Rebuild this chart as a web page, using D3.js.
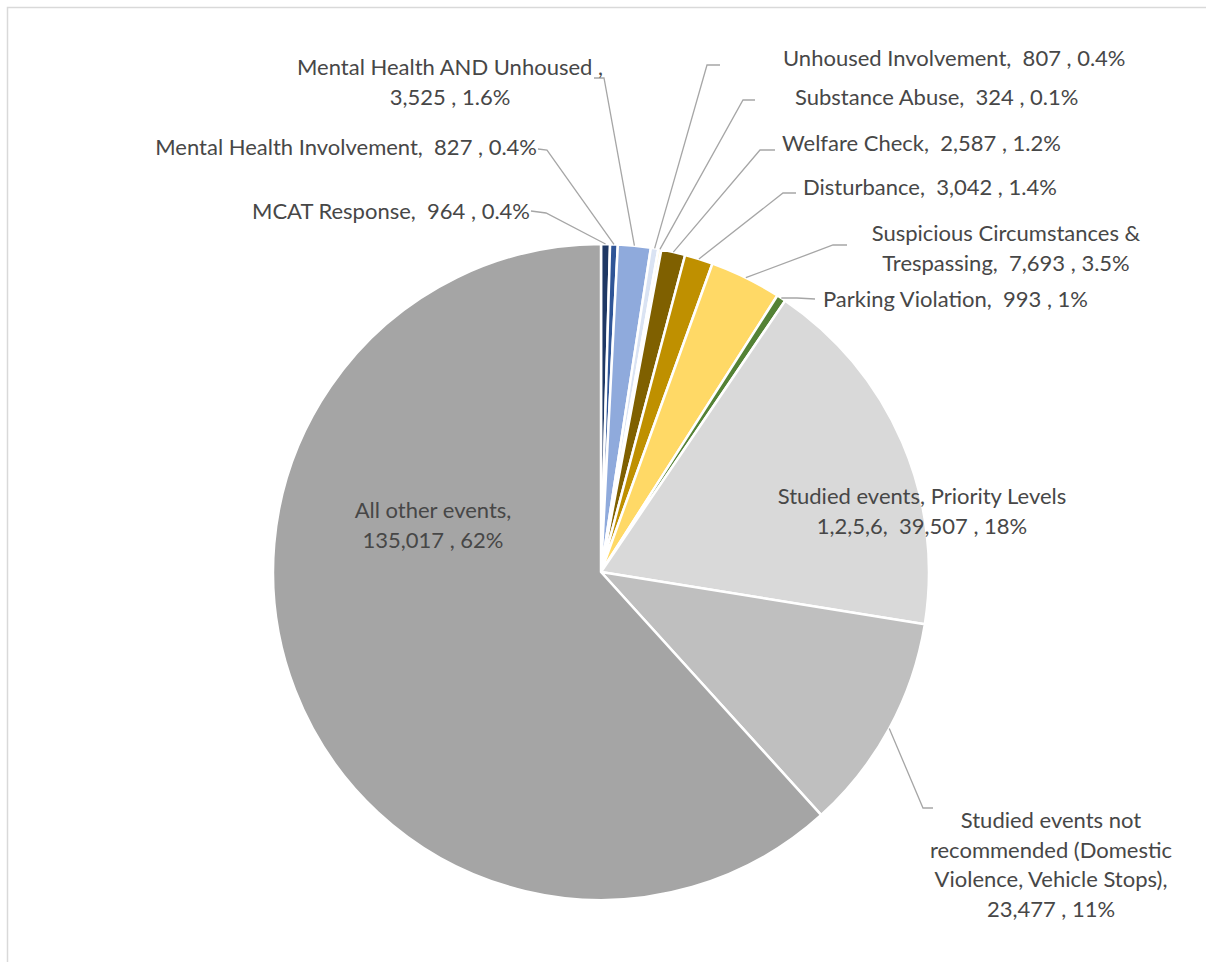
<!DOCTYPE html>
<html>
<head>
<meta charset="utf-8">
<script src="https://cdn.jsdelivr.net/npm/d3@7"></script>
<style>
  html, body { margin: 0; padding: 0; background: #fff; }
  svg { display: block; }
  text { font-family: Lato, "Open Sans", sans-serif; fill: #474747; white-space: pre; }
</style>
</head>
<body>
<svg id="chart" width="1206" height="962"></svg>
<script>
// Event categories, clockwise from 12 o'clock
const categories = [
  "MCAT Response",
  "Mental Health Involvement",
  "Mental Health AND Unhoused",
  "Unhoused Involvement",
  "Substance Abuse",
  "Welfare Check",
  "Disturbance",
  "Suspicious Circumstances & Trespassing",
  "Parking Violation",
  "Studied events, Priority Levels 1,2,5,6",
  "Studied events not recommended (Domestic Violence, Vehicle Stops)",
  "All other events"
];
// Event counts
const counts = [964, 827, 3525, 807, 324, 2587, 3042, 7693, 993, 39507, 23477, 135017];
// Share labels as printed
const shareLabels = ["0.4%", "0.4%", "1.6%", "0.4%", "0.1%", "1.2%", "1.4%", "3.5%", "1%", "18%", "11%", "62%"];
// Slice colours
const colors = ["#1f3864", "#2f5597", "#8faadc", "#dae3f3", "#fff2cc", "#7f6000",
                "#bf9000", "#ffd966", "#548235", "#d9d9d9", "#bfbfbf", "#a5a5a5"];

const fmt = d3.format(",");
const data = categories.map((c, i) => ({ name: c, value: counts[i], share: shareLabels[i], color: colors[i] }));

// Label text lines for each slice
function labelLines(d, i) {
  const v = fmt(d.value) + " , " + d.share;
  switch (i) {
    case 0: return ["MCAT Response,  " + v];
    case 1: return ["Mental Health Involvement,  " + v];
    case 2: return ["Mental Health AND Unhoused ,", v];
    case 3: return ["Unhoused Involvement,  " + v];
    case 4: return ["Substance Abuse,  " + v];
    case 5: return ["Welfare Check,  " + v];
    case 6: return ["Disturbance,  " + v];
    case 7: return ["Suspicious Circumstances &", "Trespassing,  " + v];
    case 8: return ["Parking Violation,  " + v];
    case 9: return ["Studied events, Priority Levels", "1,2,5,6,  " + v];
    case 10: return ["Studied events not", "recommended (Domestic", "Violence, Vehicle Stops),", v];
    case 11: return ["All other events,", v];
  }
}

// Label placement: text anchor point, first baseline, and leader elbow (null = label inside slice)
const layout = [
  { x: 530, y: 219, anchor: "end",    leader: [[531, 211], [546, 213]] },
  { x: 537, y: 155, anchor: "end",    leader: [[538, 149], [547, 150]] },
  { x: 450, y: 75,  anchor: "middle", leader: [[594, 78], [604, 78]] },
  { x: 783, y: 66,  anchor: "start",  leader: [[720, 65], [707, 65]] },
  { x: 795, y: 105, anchor: "start",  leader: [[755, 100], [743, 100]] },
  { x: 782, y: 151, anchor: "start",  leader: [[775, 150], [760, 150]] },
  { x: 803, y: 195, anchor: "start",  leader: [[796, 193], [783, 193]] },
  { x: 1006, y: 241, anchor: "middle", leader: [[847, 245], [833, 245]] },
  { x: 823, y: 307, anchor: "start",  leader: [[815, 299], [797, 298]] },
  { x: 922, y: 504, anchor: "middle", leader: null },
  { x: 1051, y: 828, anchor: "middle", leader: [[933, 808], [923, 808]] },
  { x: 433, y: 518, anchor: "middle", leader: null }
];

const svg = d3.select("#chart");

// Chart area frame
svg.append("rect")
  .attr("x", 7.5).attr("y", 7.5)
  .attr("width", 1250).attr("height", 1000)
  .attr("fill", "#fff")
  .attr("stroke", "#d9d9d9").attr("stroke-width", 1.5);

const cx = 601, cy = 572, radius = 328;
const g = svg.append("g").attr("transform", `translate(${cx},${cy})`);

const pie = d3.pie().value(d => d.value).sort(null);
const arcs = pie(data);
const arc = d3.arc().innerRadius(0).outerRadius(radius);

g.selectAll("path.slice")
  .data(arcs)
  .join("path")
  .attr("class", "slice")
  .attr("d", arc)
  .attr("fill", d => d.data.color)
  .attr("stroke", "#fff")
  .attr("stroke-width", 2.5)
  .attr("stroke-linejoin", "round");

// Leader lines from slice edge midpoints to labels
const line = d3.line();
arcs.forEach((a, i) => {
  const L = layout[i];
  if (!L.leader) return;
  const mid = (a.startAngle + a.endAngle) / 2;
  const edge = [cx + radius * Math.sin(mid), cy - radius * Math.cos(mid)];
  svg.append("path")
    .attr("d", line([L.leader[0], L.leader[1], edge]))
    .attr("fill", "none")
    .attr("stroke", "#a6a6a6")
    .attr("stroke-width", 1.3);
});

// Labels
arcs.forEach((a, i) => {
  const L = layout[i];
  const lines = labelLines(a.data, i);
  const t = svg.append("text")
    .attr("text-anchor", L.anchor)
    .attr("font-size", 22);
  lines.forEach((s, k) => {
    t.append("tspan").attr("x", L.x).attr("y", L.y + k * 29.5).text(s);
  });
});
</script>
</body>
</html>
